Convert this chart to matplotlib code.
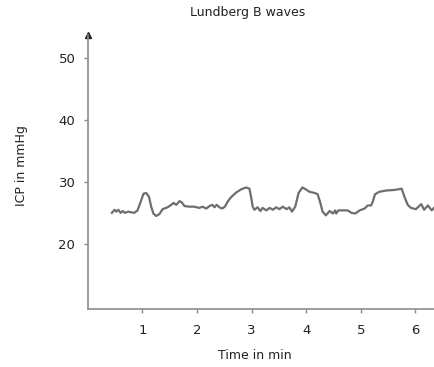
import matplotlib.pyplot as plt

# Zeit (min) und ICP (mmHg)
time_min = [0.44, 0.49, 0.52, 0.56, 0.60, 0.64, 0.68, 0.74, 0.85, 0.91, 0.98, 1.02,
            1.07, 1.12, 1.16, 1.20, 1.25, 1.31, 1.37, 1.46, 1.53, 1.57, 1.62, 1.68,
            1.72, 1.77, 1.86, 1.95, 2.04, 2.10, 2.17, 2.23, 2.28, 2.32, 2.36, 2.41,
            2.46, 2.51, 2.56, 2.62, 2.72, 2.81, 2.90, 2.96, 2.99, 3.02, 3.05, 3.11,
            3.16, 3.20, 3.27, 3.33, 3.39, 3.45, 3.51, 3.57, 3.64, 3.69, 3.74, 3.80,
            3.86, 3.93, 3.99, 4.06, 4.16, 4.21, 4.26, 4.30, 4.36, 4.43, 4.49, 4.53,
            4.55, 4.59, 4.76, 4.83, 4.90, 4.98, 5.07, 5.13, 5.19, 5.22, 5.26, 5.34,
            5.46, 5.62, 5.75, 5.80, 5.86, 5.92, 6.01, 6.07, 6.11, 6.16, 6.23, 6.30,
            6.36]
icp_mmhg = [25.0, 25.5, 25.2, 25.5, 25.0, 25.3, 25.0, 25.2, 25.0, 25.4, 27.1, 28.1,
            28.2, 27.6, 26.0, 24.9, 24.5, 24.8, 25.6, 25.9, 26.3, 26.6, 26.3, 26.9,
            26.7, 26.1, 26.0, 26.0, 25.8, 26.0, 25.7, 26.1, 26.3, 25.9, 26.3, 25.9,
            25.7, 26.0, 26.8, 27.5, 28.3, 28.8, 29.1, 28.9, 27.6, 26.0, 25.5, 25.9,
            25.3, 25.8, 25.4, 25.8, 25.5, 25.9, 25.6, 26.0, 25.6, 25.9, 25.2, 26.0,
            28.2, 29.1, 28.8, 28.4, 28.2, 28.0, 26.6, 25.2, 24.6, 25.3, 24.9, 25.4,
            24.9, 25.4, 25.4, 25.0, 24.9, 25.4, 25.7, 26.2, 26.2, 26.8, 28.0, 28.4,
            28.6, 28.7, 28.9, 27.6, 26.3, 25.8, 25.6, 26.1, 26.4, 25.5, 26.2, 25.4,
            26.0]

x_ticks = [1, 2, 3, 4, 5, 6]
y_ticks = [20, 30, 40, 50]

fig = plt.figure(figsize=(4.35, 3.67), dpi=100)
ax = fig.add_axes([0.202, 0.158, 0.798, 0.747])

ax.plot(time_min, icp_mmhg, color='#6e6e6e', lw=1.6, solid_joinstyle='round')

ax.set_xlim(0, 6.36)
ax.set_ylim(9.5, 53.7)
ax.set_xticks(x_ticks)
ax.set_yticks(y_ticks)

for s in ['top', 'right']:
    ax.spines[s].set_visible(False)
for s in ['left', 'bottom']:
    ax.spines[s].set_color('#8c8c8c')
    ax.spines[s].set_linewidth(1.2)
ax.tick_params(colors='#8c8c8c', length=3, width=1, labelcolor='#222222',
               labelsize=9.5)
ax.tick_params(axis='x', pad=8)
ax.tick_params(axis='y', pad=6)

# Pfeil an der y-Achse
ax.plot(0, 1, marker='^', color='#222222', markersize=4.5,
        transform=ax.transAxes, clip_on=False)

fig.text(0.57, 0.965, 'Lundberg B waves', ha='center', va='center',
         fontsize=9, color='#222222')
fig.text(0.05, 0.55, 'ICP in mmHg', ha='center', va='center', rotation=90,
         fontsize=9, color='#222222')
fig.text(0.585, 0.03, 'Time in min', ha='center', va='center',
         fontsize=9, color='#222222')

fig.savefig('out.png', dpi=100)
